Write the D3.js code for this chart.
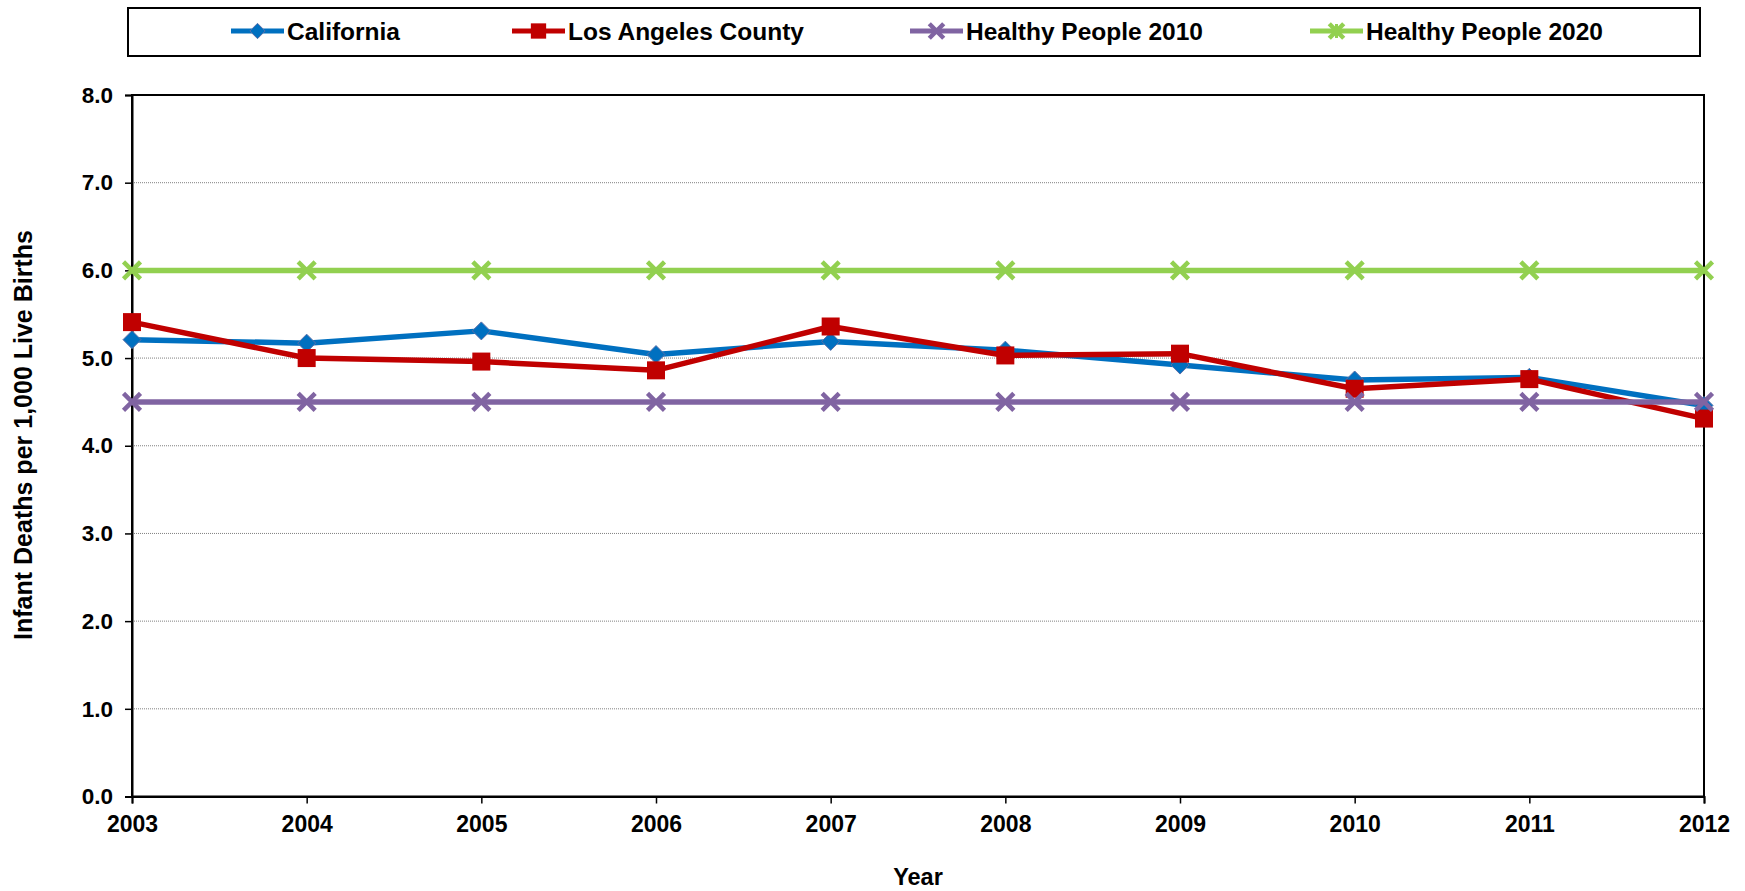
<!DOCTYPE html>
<html>
<head>
<meta charset="utf-8">
<script src="https://cdn.jsdelivr.net/npm/d3@7"></script>
<style>
  html, body { margin: 0; padding: 0; background: #fff; }
  svg { display: block; font-family: "Liberation Sans", Arial, sans-serif; font-weight: bold; }
</style>
</head>
<body>
<svg id="chart" width="1745" height="891"></svg>
<script>
const years = [2003, 2004, 2005, 2006, 2007, 2008, 2009, 2010, 2011, 2012];
const california = [5.21, 5.17, 5.31, 5.04, 5.19, 5.09, 4.92, 4.75, 4.78, 4.46];
const losAngeles = [5.41, 5.00, 4.96, 4.86, 5.36, 5.03, 5.05, 4.65, 4.76, 4.31];
const hp2010 = [4.5, 4.5, 4.5, 4.5, 4.5, 4.5, 4.5, 4.5, 4.5, 4.5];
const hp2020 = [6.0, 6.0, 6.0, 6.0, 6.0, 6.0, 6.0, 6.0, 6.0, 6.0];
const yTicks = [0, 1, 2, 3, 4, 5, 6, 7, 8];
const seriesNames = ["California", "Los Angeles County", "Healthy People 2010", "Healthy People 2020"];

const series = [
  { name: seriesNames[0], values: california, color: "#0070C0", marker: "diamond" },
  { name: seriesNames[1], values: losAngeles, color: "#C00000", marker: "square" },
  { name: seriesNames[2], values: hp2010, color: "#8064A2", marker: "x" },
  { name: seriesNames[3], values: hp2020, color: "#92D050", marker: "x" }
];

const svg = d3.select("#chart");
const L = 132, R = 1704, T = 95, B = 796.5;

const x = d3.scalePoint().domain(years).range([L, R]);
const y = d3.scaleLinear().domain([0, 8]).range([B, T]);

// gridlines
svg.append("g").selectAll("line").data(yTicks.filter(d => d > 0 && d < 8)).join("line")
  .attr("x1", L).attr("x2", R)
  .attr("y1", d => y(d)).attr("y2", d => y(d))
  .attr("stroke", "#808080").attr("stroke-width", 1).attr("stroke-dasharray", "1,1");

// plot border
svg.append("rect").attr("x", L).attr("y", T).attr("width", R - L).attr("height", B - T)
  .attr("fill", "none").attr("stroke", "#000").attr("stroke-width", 2);

// axes
const yAxis = d3.axisLeft(y).tickValues(yTicks).tickFormat(d3.format(".1f")).tickSize(7).tickPadding(12);
const gy = svg.append("g").attr("transform", `translate(${L},0)`).call(yAxis);
gy.select(".domain").attr("stroke", "#000").attr("stroke-width", 2);
gy.selectAll(".tick line").attr("stroke", "#000").attr("stroke-width", 1.5);
gy.selectAll("text").attr("font-size", 22.5).attr("font-weight", "bold").attr("fill", "#000")
  .attr("font-family", "Liberation Sans, Arial, sans-serif");

const xAxis = d3.axisBottom(x).tickSize(7).tickPadding(12);
const gx = svg.append("g").attr("transform", `translate(0,${B})`).call(xAxis);
gx.select(".domain").attr("stroke", "#000").attr("stroke-width", 2);
gx.selectAll(".tick line").attr("stroke", "#000").attr("stroke-width", 1.5);
gx.selectAll("text").attr("font-size", 23).attr("font-weight", "bold").attr("fill", "#000")
  .attr("font-family", "Liberation Sans, Arial, sans-serif");

// axis titles
svg.append("text").attr("x", (L + R) / 2).attr("y", 885).attr("text-anchor", "middle")
  .attr("font-size", 23.5).text("Year");
svg.append("text").attr("transform", `translate(32,435) rotate(-90)`)
  .attr("text-anchor", "middle").attr("font-size", 25).text("Infant Deaths per 1,000 Live Births");

function drawMarker(g, type, color, cx, cy, scale) {
  const s = scale || 1;
  if (type === "diamond") {
    const r = 9 * s;
    g.append("path").attr("d", `M${cx},${cy - r}L${cx + r},${cy}L${cx},${cy + r}L${cx - r},${cy}Z`)
      .attr("fill", color).attr("stroke", "#5B6FA8").attr("stroke-width", 1);
  } else if (type === "square") {
    const h = 9 * s;
    g.append("rect").attr("x", cx - h).attr("y", cy - h).attr("width", 2 * h).attr("height", 2 * h)
      .attr("fill", color);
  } else {
    const h = 8.5 * s;
    g.append("path").attr("d", `M${cx - h},${cy - h}L${cx + h},${cy + h}M${cx - h},${cy + h}L${cx + h},${cy - h}`)
      .attr("stroke", color).attr("stroke-width", 4.5).attr("fill", "none");
  }
}

const line = d3.line().x((d, i) => x(years[i])).y(d => y(d));

series.forEach(s => {
  const g = svg.append("g");
  g.append("path").datum(s.values).attr("d", line)
    .attr("fill", "none").attr("stroke", s.color).attr("stroke-width", 5.5).attr("stroke-linejoin", "round");
  s.values.forEach((v, i) => drawMarker(g, s.marker, s.color, x(years[i]), y(v)));
});

// legend
svg.append("rect").attr("x", 128).attr("y", 8).attr("width", 1572).attr("height", 48)
  .attr("fill", "#fff").attr("stroke", "#000").attr("stroke-width", 2);
const legendX = [231, 512, 910, 1310];
series.forEach((s, i) => {
  const g = svg.append("g");
  const x0 = legendX[i], ly = 31;
  g.append("line").attr("x1", x0).attr("x2", x0 + 53).attr("y1", ly).attr("y2", ly)
    .attr("stroke", s.color).attr("stroke-width", 5);
  drawMarker(g, s.marker, s.color, x0 + 26.5, ly, 0.85);
  if (s.marker === "x" && i === 3) {
    g.append("line").attr("x1", x0 + 26.5).attr("x2", x0 + 26.5).attr("y1", ly - 7).attr("y2", ly + 7)
      .attr("stroke", s.color).attr("stroke-width", 3);
  }
  g.append("text").attr("x", x0 + 56).attr("y", ly + 8.5).attr("font-size", 24.5).text(s.name);
});
</script>
</body>
</html>
